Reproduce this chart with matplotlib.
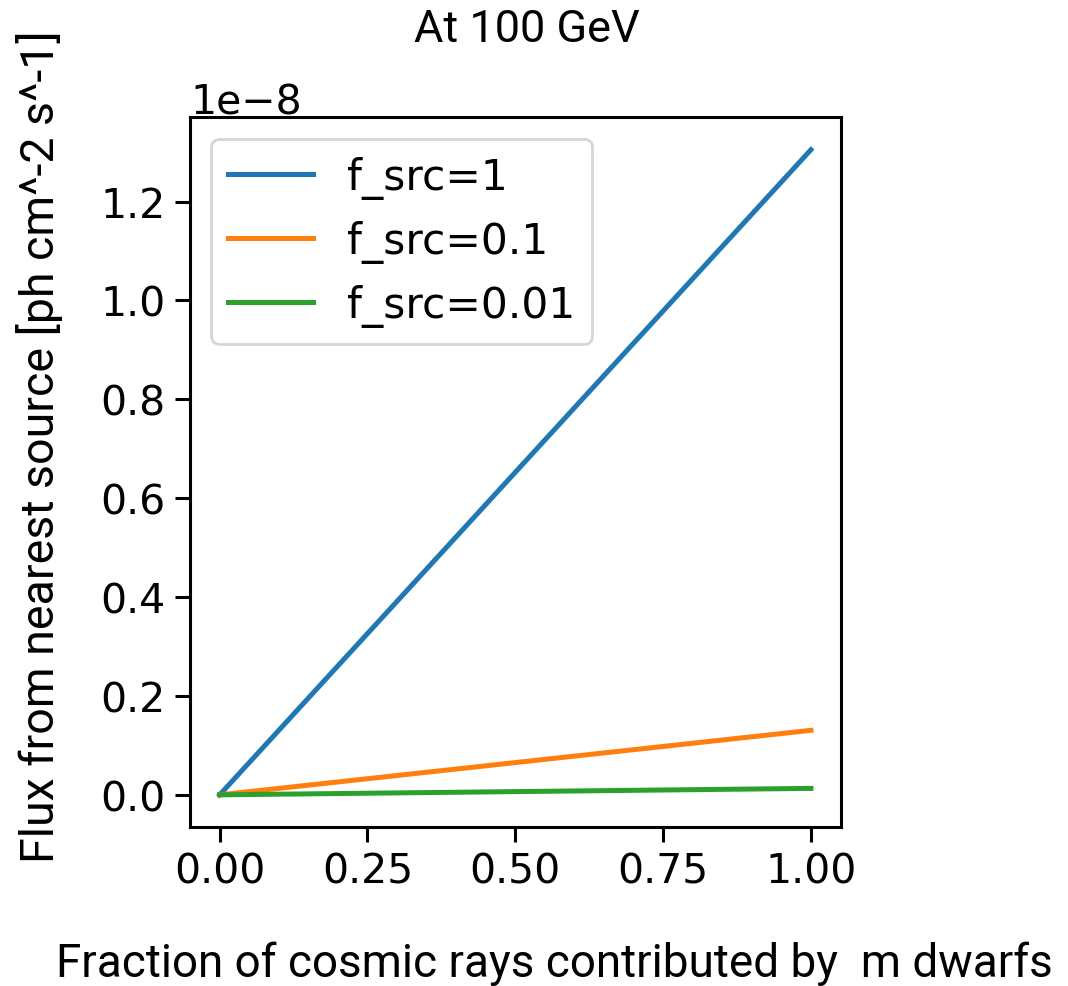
import numpy as np
import matplotlib
matplotlib.use("Agg")
import matplotlib.pyplot as plt

# fraction of cosmic rays from M dwarfs, and flux for each source fraction
frac = [0.0, 1.0]
f_src_labels = ['f_src=1', 'f_src=0.1', 'f_src=0.01']
flux_1 = [0.0, 1.305e-8]
flux_01 = [0.0, 0.1305e-8]
flux_001 = [0.0, 0.01305e-8]

fig = plt.figure(figsize=(10.68, 9.87), dpi=100)
ax = fig.add_axes([0.178, 0.161, 0.609, 0.719])

ax.plot(frac, flux_1, color='#1f77b4', lw=3.6, label=f_src_labels[0])
ax.plot(frac, flux_01, color='#ff7f0e', lw=3.6, label=f_src_labels[1])
ax.plot(frac, flux_001, color='#2ca02c', lw=3.6, label=f_src_labels[2])

ax.set_xticks([0.0, 0.25, 0.5, 0.75, 1.0])
ax.tick_params(labelsize=29.5, length=10.5, width=2.2, pad=7)
for s in ax.spines.values():
    s.set_linewidth(2.2)
ax.yaxis.get_offset_text().set_fontsize(29.5)

leg = ax.legend(loc='upper left', fontsize=30.5)
leg.get_frame().set_linewidth(2.0)

lab_font = 'Roboto'
fig.text(0.493, 0.970, 'At 100 GeV', ha='center', va='center',
         fontsize=32.5, family=lab_font)
fig.text(0.037, 0.547, 'Flux from nearest source [ph cm^-2 s^-1]', rotation=90,
         ha='center', va='center', fontsize=33.5, family=lab_font)
fig.text(0.519, 0.024, 'Fraction of cosmic rays contributed by  m dwarfs',
         ha='center', va='center', fontsize=33, family=lab_font)

fig.savefig('out.png', dpi=100)
